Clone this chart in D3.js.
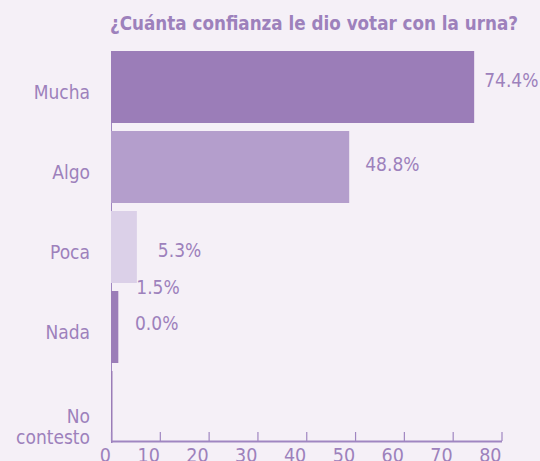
<!DOCTYPE html>
<html>
<head>
<meta charset="utf-8">
<script src="https://cdn.jsdelivr.net/npm/d3@7"></script>
<style>
  html, body { margin: 0; padding: 0; background: #f5f0f7; overflow: hidden; }
  svg { display: block; }
  text { font-family: "DejaVu Sans Condensed", "DejaVu Sans", sans-serif; font-stretch: condensed; fill: #9d81bc; }
</style>
</head>
<body>
<svg id="chart" width="540" height="461"></svg>
<script>
// ---- data ----
const title = "¿Cuánta confianza le dio votar con la urna?";
const categories = ["Mucha", "Algo", "Poca", "Nada", "No contesto"];
const values = [74.4, 48.8, 5.3, 1.5, 0.0];
const valueLabels = ["74.4%", "48.8%", "5.3%", "1.5%", "0.0%"];
const xTicks = [0, 10, 20, 30, 40, 50, 60, 70, 80];

// ---- styling / layout ----
const barColors = ["#9b7db8", "#b49ecc", "#dbd0e8", "#9b7db8", "#9b7db8"];
const axisColor = "#a086c1";
// label nudges [dx from bar end, dy from band centre to baseline]
const labelNudge = [[10, 0], [16, 4], [21, 10], [18, -33], [24, -77]];

const svg = d3.select("#chart");

const x = d3.scaleLinear().domain([0, 80]).range([111, 501.5]);
const y = d3.scaleBand().domain(categories).range([51, 443]).paddingInner(0.1).paddingOuter(0);
const axisY = 441;

// title
svg.append("text")
  .attr("x", 110).attr("y", 30)
  .attr("font-weight", "bold")
  .attr("font-size", 19.5)
  .attr("textLength", 408)
  .attr("lengthAdjust", "spacingAndGlyphs")
  .text(title);

// vertical axis line
svg.append("line")
  .attr("x1", x(0) + 0.5).attr("x2", x(0) + 0.5)
  .attr("y1", y.range()[0]).attr("y2", axisY)
  .attr("stroke", axisColor).attr("stroke-width", 1);

// bars
svg.append("g").selectAll("rect")
  .data(categories)
  .join("rect")
  .attr("x", x(0))
  .attr("y", d => y(d))
  .attr("width", (d, i) => Math.max(x(values[i]) - x(0), 1.5))
  .attr("height", y.bandwidth())
  .attr("fill", (d, i) => barColors[i]);

// value labels
svg.append("g").selectAll("text")
  .data(categories)
  .join("text")
  .attr("x", (d, i) => x(values[i]) + labelNudge[i][0])
  .attr("y", (d, i) => y(d) + y.bandwidth() / 2 + labelNudge[i][1])
  .attr("font-size", 19)
  .text((d, i) => valueLabels[i]);

// category labels
const cat = svg.append("g").selectAll("text")
  .data(categories)
  .join("text")
  .attr("text-anchor", "end")
  .attr("font-size", 19);
cat.each(function(d) {
  const words = d.split(" ");
  const cy = y(d) + y.bandwidth() / 2;
  const sel = d3.select(this);
  if (words.length === 1) {
    sel.append("tspan").attr("x", 90).attr("y", cy + 12).text(d);
  } else {
    words.forEach((w, k) => {
      sel.append("tspan").attr("x", 90).attr("y", cy + 16 + k * 20.5).text(w);
    });
  }
});

// x axis
const xAxis = d3.axisBottom(x)
  .tickValues(xTicks)
  .tickSize(-9)
  .tickSizeOuter(0)
  .tickPadding(0)
  .tickFormat(d3.format("d"));
const gx = svg.append("g")
  .attr("transform", `translate(0,${axisY})`)
  .call(xAxis);
gx.select(".domain").attr("stroke", axisColor).attr("stroke-width", 2.2);
gx.selectAll(".tick line").attr("stroke", axisColor).attr("stroke-width", 1.2);
gx.selectAll(".tick text")
  .attr("fill", axisColor)
  .attr("font-size", 19.5)
  .attr("font-family", null)
  .attr("text-anchor", "end")
  .attr("x", -0.5)
  .attr("y", 20.5)
  .attr("dy", null);
</script>
</body>
</html>
